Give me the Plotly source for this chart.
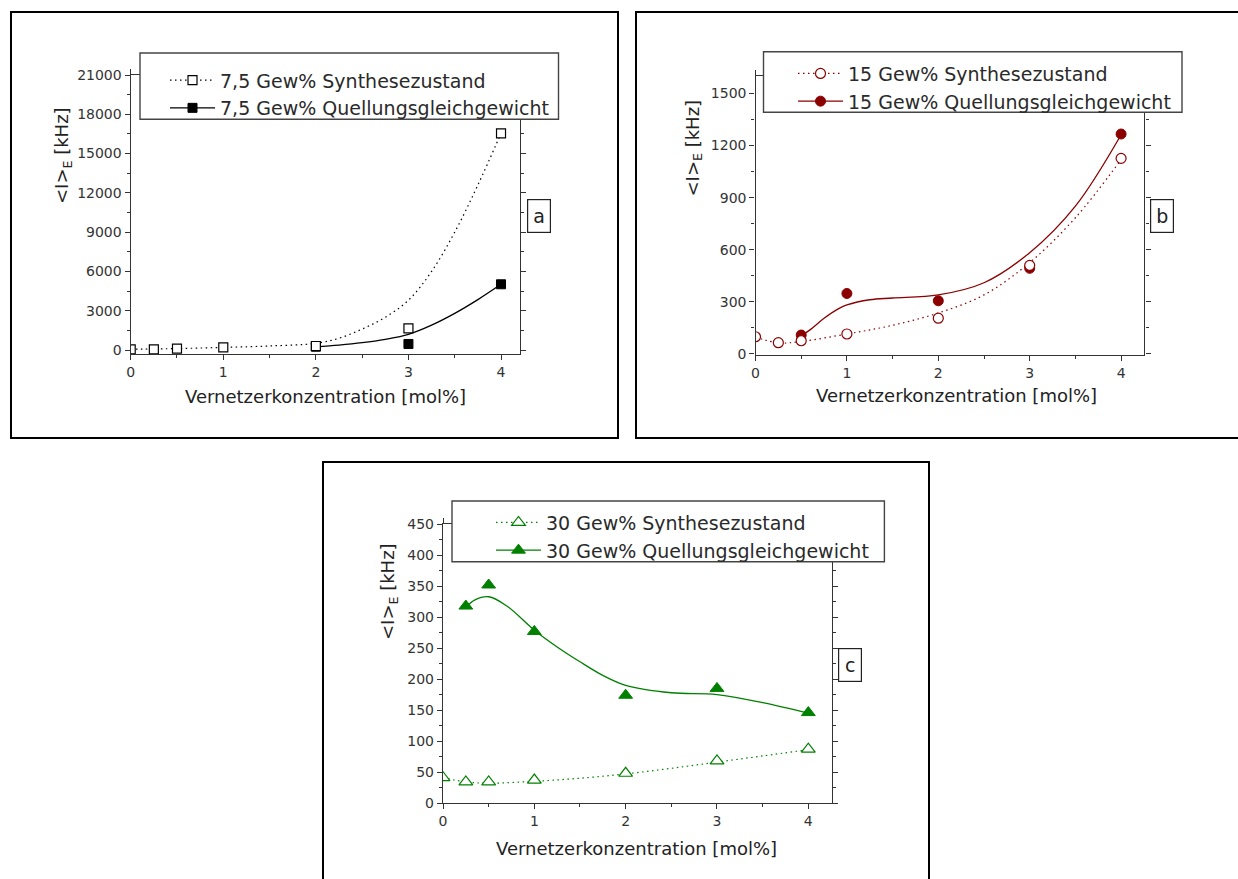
import plotly.graph_objects as go

W, H = 1238, 879


def px(x):
    return x / W


def py(y):
    return 1 - y / H


# ---------------- data ----------------
x_syn = [0, 0.25, 0.5, 1, 2, 3, 4]

# Panel a: 7,5 Gew%
a_syn = [50, 50, 100, 205, 305, 1655, 16550]
a_que_x = [2, 3, 4]
a_que = [250, 460, 5020]
a_syn_fit_x = [0, 0.5, 1, 1.5, 2, 2.25, 2.5, 2.75, 3, 3.25, 3.5, 3.75, 4]
a_syn_fit = [60, 110, 200, 310, 510, 900, 1600, 2500, 3800, 6000, 9000, 12600, 16550]
a_que_fit_x = [2, 2.25, 2.5, 2.75, 3, 3.25, 3.5, 3.75, 4]
a_que_fit = [254, 380, 560, 820, 1200, 1900, 2800, 3850, 5016]

# Panel b: 15 Gew%
b_syn = [99, 65, 76, 115, 206, 510, 1126]
b_que_x = [0.5, 1, 2, 3, 4]
b_que = [109, 348, 306, 493, 1266]
b_syn_fit_x = [0, 0.25, 0.5, 1, 1.5, 2, 2.5, 3, 3.5, 4]
b_syn_fit = [97, 64, 72, 115, 165, 236, 340, 526, 784, 1118]
b_que_fit_x = [0.5, 0.6, 0.75, 0.9, 1, 1.25, 1.5, 2, 2.5, 3, 3.5, 4]
b_que_fit = [105, 140, 205, 258, 282, 312, 322, 340, 410, 583, 851, 1262]

# Panel c: 30 Gew%
c_syn = [41, 34, 34, 37, 48, 68, 87]
c_que_x = [0.25, 0.5, 1, 2, 3, 4]
c_que = [318, 352, 277, 174, 185, 146]
c_syn_fit_x = [0, 0.25, 0.5, 1, 1.5, 2, 2.5, 3, 3.5, 4]
c_syn_fit = [41, 34, 32, 35, 40, 47, 56, 66, 76, 86]
c_que_fit_x = [0.25, 0.35, 0.5, 0.7, 1, 1.25, 1.5, 1.75, 2, 2.5, 3, 3.5, 4]
c_que_fit = [316, 328, 333, 318, 279, 252, 228, 206, 190, 178, 175, 162, 145]

x_tick_vals = [0, 1, 2, 3, 4]
x_tick_text = ["0", "1", "2", "3", "4"]

panels = [
    dict(name="7,5 Gew%", color="#000000", sym="square", size=9,
         syn=a_syn, qx=a_que_x, q=a_que,
         sfx=a_syn_fit_x, sf=a_syn_fit, qfx=a_que_fit_x, qf=a_que_fit,
         ax="x", ay="y", legend="legend"),
    dict(name="15 Gew%", color="#8b0000", sym="circle", size=10,
         syn=b_syn, qx=b_que_x, q=b_que,
         sfx=b_syn_fit_x, sf=b_syn_fit, qfx=b_que_fit_x, qf=b_que_fit,
         ax="x2", ay="y2", legend="legend2"),
    dict(name="30 Gew%", color="#008000", sym="triangle-up", size=12,
         syn=c_syn, qx=c_que_x, q=c_que,
         sfx=c_syn_fit_x, sf=c_syn_fit, qfx=c_que_fit_x, qf=c_que_fit,
         ax="x3", ay="y3", legend="legend3"),
]

DOT = "1.5px,3.5px"
fig = go.Figure()
for p in panels:
    c = p["color"]
    fig.add_trace(go.Scatter(x=p["sfx"], y=p["sf"], mode="lines", line=dict(color=c, width=1.2, dash=DOT, shape="spline", smoothing=1.0),
                             xaxis=p["ax"], yaxis=p["ay"], showlegend=False, hoverinfo="skip"))
    fig.add_trace(go.Scatter(x=p["qfx"], y=p["qf"], mode="lines", line=dict(color=c, width=1.3, shape="spline", smoothing=1.0),
                             xaxis=p["ax"], yaxis=p["ay"], showlegend=False, hoverinfo="skip"))
    fig.add_trace(go.Scatter(x=p["qx"], y=p["q"], mode="markers",
                             marker=dict(symbol=p["sym"], size=p["size"], color=c, line=dict(color=c, width=1)),
                             xaxis=p["ax"], yaxis=p["ay"], showlegend=False))
    fig.add_trace(go.Scatter(x=x_syn, y=p["syn"], mode="markers",
                             marker=dict(symbol=p["sym"], size=p["size"], color="white", line=dict(color=c, width=1.2)),
                             xaxis=p["ax"], yaxis=p["ay"], showlegend=False))
    # legend entries
    fig.add_trace(go.Scatter(x=[None], y=[None], mode="lines+markers", name=p["name"] + " Synthesezustand",
                             line=dict(color=c, width=1.2, dash=DOT),
                             marker=dict(symbol=p["sym"], size=p["size"], color="white", line=dict(color=c, width=1.2)),
                             xaxis=p["ax"], yaxis=p["ay"], legend=p["legend"]))
    fig.add_trace(go.Scatter(x=[None], y=[None], mode="lines+markers", name=p["name"] + " Quellungsgleichgewicht",
                             line=dict(color=c, width=1.3),
                             marker=dict(symbol=p["sym"], size=p["size"], color=c, line=dict(color=c, width=1)),
                             xaxis=p["ax"], yaxis=p["ay"], legend=p["legend"]))

FONT = "DejaVu Sans"
tickfont = dict(family=FONT, size=14, color="#333333")


def xaxis(l, r, rng, anchor):
    return dict(domain=[px(l), px(r)], range=rng, anchor=anchor, tickvals=x_tick_vals, ticktext=x_tick_text,
                ticks="outside", ticklen=5, tickwidth=1.2, tickcolor="#333", showline=True, linecolor="#333", linewidth=1.4,
                mirror="ticks", showgrid=False, zeroline=False, tickfont=tickfont, automargin=False,
                minor=dict(dtick=0.5, tick0=0, ticks="outside", ticklen=3, tickcolor="#333", tickwidth=1, showgrid=False))


def yaxis(t, b, rng, dtick, anchor):
    return dict(domain=[py(b), py(t)], range=rng, anchor=anchor, dtick=dtick, tick0=0, tickformat="d",
                ticks="outside", ticklen=5, tickwidth=1.2, tickcolor="#333", showline=True, linecolor="#333", linewidth=1.4,
                mirror="ticks", showgrid=False, zeroline=False, tickfont=tickfont, automargin=False,
                minor=dict(dtick=dtick / 2, tick0=0, ticks="outside", ticklen=3, tickcolor="#333", tickwidth=1, showgrid=False))


legfont = dict(family=FONT, size=19, color="#2a2a2a")

shapes = []
# outer frames
for (x0, y0, x1, y1) in [(11, 12, 618, 438), (636, 12, 1242, 438), (323, 462, 929, 885)]:
    shapes.append(dict(type="rect", xref="paper", yref="paper", x0=px(x0), x1=px(x1), y0=py(y0), y1=py(y1),
                       line=dict(color="black", width=2), layer="above"))
# legend boxes
leg_boxes = [(140, 53, 558.5, 119.3), (763.5, 51.7, 1182, 112.3), (452, 501, 884.4, 561.7)]
for (x0, y0, x1, y1) in leg_boxes:
    shapes.append(dict(type="rect", xref="paper", yref="paper", x0=px(x0), x1=px(x1), y0=py(y0), y1=py(y1),
                       line=dict(color="#444", width=1.4), fillcolor="white", layer="above"))

annotations = []
# panel letters
for (txt, cx, cy) in [("a", 539, 215.5), ("b", 1162, 216), ("c", 850, 665)]:
    annotations.append(dict(text=txt, x=px(cx), y=py(cy), xref="paper", yref="paper", showarrow=False,
                            xanchor="center", yanchor="middle", width=22, height=32, borderpad=0,
                            bordercolor="#222", borderwidth=1.2, bgcolor="white",
                            font=dict(family=FONT, size=19, color="#222")))
# x titles
for (cx, cy) in [(325.5, 396.7), (956, 395), (636.5, 848.3)]:
    annotations.append(dict(text="Vernetzerkonzentration [mol%]", x=px(cx), y=py(cy), xref="paper", yref="paper",
                            showarrow=False, xanchor="center", yanchor="middle",
                            font=dict(family=FONT, size=18, color="#222")))
# y titles
for (cx, cy) in [(63, 156), (693.5, 148), (389, 592)]:
    annotations.append(dict(text="&lt;I&gt;<sub>E</sub> [kHz]", x=px(cx), y=py(cy), xref="paper", yref="paper",
                            showarrow=False, xanchor="center", yanchor="middle", textangle=-90,
                            font=dict(family=FONT, size=18, color="#222")))


def legend(x_text, y_row1):
    return dict(x=px(x_text - 54), y=py(y_row1 - 18.7), xanchor="left", yanchor="top", bgcolor="rgba(0,0,0,0)",
                borderwidth=0, font=legfont, itemwidth=45, tracegroupgap=0, traceorder="normal")


fig.update_layout(
    template="none",
    width=W, height=H, margin=dict(l=0, r=0, t=0, b=0, pad=0), autosize=False,
    paper_bgcolor="white", plot_bgcolor="white",
    xaxis=xaxis(130.7, 520, [0, 4.205], "y"),
    yaxis=yaxis(75, 354, [-305, 21000], 3000, "x"),
    xaxis2=xaxis(755.5, 1144.4, [0, 4.255], "y2"),
    yaxis2=yaxis(76, 355, [-6, 1600], 300, "x2"),
    xaxis3=xaxis(443, 831.7, [0, 4.256], "y3"),
    yaxis3=yaxis(524.3, 803, [0, 450], 50, "x3"),
    legend=legend(219, 80),
    legend2=legend(847, 73.3),
    legend3=legend(545, 522.3),
    shapes=shapes,
    annotations=annotations,
    showlegend=True,
)

fig.write_html("out.html", post_script="document.body.style.margin='0';document.body.style.overflow='hidden';")
